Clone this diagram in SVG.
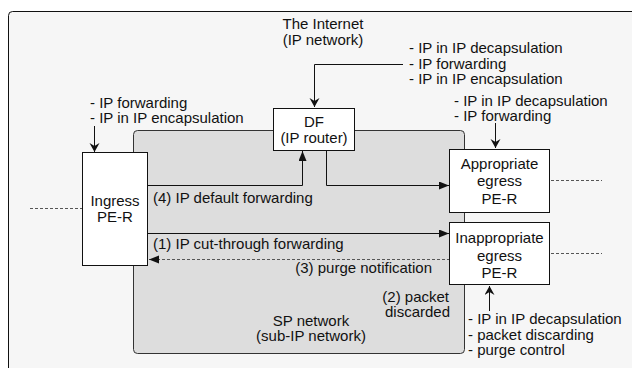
<svg xmlns="http://www.w3.org/2000/svg" width="632" height="368" viewBox="0 0 632 368">
<style>
  text { font-family: "Liberation Sans", Arial, sans-serif; font-size: 15px; fill: #111; }
  .c { text-anchor: middle; }
  .e { text-anchor: end; }
  .box { fill: #ffffff; stroke: #111; stroke-width: 1; }
  .ln { fill: none; stroke: #111; stroke-width: 1; }
  .dash { fill: none; stroke: #555; stroke-width: 1; stroke-dasharray: 3 2; }
</style>
<defs>
  <marker id="arr" markerUnits="userSpaceOnUse" markerWidth="12" markerHeight="10" refX="10" refY="4" orient="auto">
    <path d="M0,0 L10,4 L0,8 Z" fill="#111"/>
  </marker>
  <marker id="chev" markerUnits="userSpaceOnUse" markerWidth="12" markerHeight="12" refX="9" refY="5" orient="auto">
    <path d="M0,0 L9,5 L0,10 L3,5 Z" fill="#111"/>
  </marker>
</defs>

<rect id="frame" x="8.5" y="11.5" width="700" height="420" rx="4" fill="#f6f6f6" stroke="#111"/>

<g id="sp-network">
  <rect x="133.5" y="130.5" width="331" height="223" rx="4" fill="#dddddd" stroke="#333"/>
  <text class="c" x="311" y="325.5">SP network</text>
  <text class="c" x="311" y="341">(sub-IP network)</text>
</g>

<g id="internet">
  <text class="c" x="323" y="28.5">The Internet</text>
  <text class="c" x="323" y="45">(IP network)</text>
</g>

<g id="connectors">
  <path class="ln" d="M403,64.5 H314.5 V107" marker-end="url(#chev)"/>
  <path class="ln" d="M94.5,126 V152" marker-end="url(#chev)"/>
  <path class="ln" d="M495.5,123 V148" marker-end="url(#chev)"/>
  <path class="ln" d="M489.5,311 V286" marker-end="url(#chev)"/>
  <path class="ln" d="M148,185.5 H302.5 V151" marker-end="url(#arr)"/>
  <path class="ln" d="M326.5,150 V185.5 H449" marker-end="url(#arr)"/>
  <path class="ln" d="M148,233.5 H449" marker-end="url(#arr)"/>
  <path class="dash" d="M450,259.5 H149" marker-end="url(#arr)"/>
  <path class="dash" d="M30,208.5 H82"/>
  <path class="dash" d="M551,180.5 H602"/>
  <path class="dash" d="M551,253.5 H602"/>
</g>

<g id="ingress">
  <rect class="box" x="82.5" y="152.5" width="65" height="113"/>
  <text class="c" x="115" y="205.5">Ingress</text>
  <text class="c" x="115" y="221.5">PE-R</text>
</g>

<g id="df">
  <rect class="box" x="273.5" y="108.5" width="81" height="42"/>
  <text class="c" x="314" y="127">DF</text>
  <text class="c" x="314" y="142.5">(IP router)</text>
</g>

<g id="appropriate-egress">
  <rect class="box" x="449.5" y="149.5" width="100" height="63"/>
  <text class="c" x="499.5" y="168.5">Appropriate</text>
  <text class="c" x="499.5" y="186">egress</text>
  <text class="c" x="499.5" y="203.5">PE-R</text>
</g>

<g id="inappropriate-egress">
  <rect class="box" x="449.5" y="222.5" width="100" height="62"/>
  <text class="c" x="499.5" y="243">Inappropriate</text>
  <text class="c" x="499.5" y="260.5">egress</text>
  <text class="c" x="499.5" y="278">PE-R</text>
</g>

<g id="labels">
  <text x="409" y="53">- IP in IP decapsulation</text>
  <text x="409" y="68.5">- IP forwarding</text>
  <text x="409" y="84">- IP in IP encapsulation</text>
  <text x="90" y="107.5">- IP forwarding</text>
  <text x="90" y="123">- IP in IP encapsulation</text>
  <text x="454" y="105.5">- IP in IP decapsulation</text>
  <text x="454" y="121">- IP forwarding</text>
  <text x="468" y="324">- IP in IP decapsulation</text>
  <text x="468" y="339.5">- packet discarding</text>
  <text x="468" y="355">- purge control</text>
  <text x="153" y="203">(4) IP default forwarding</text>
  <text x="153" y="249">(1) IP cut-through forwarding</text>
  <text class="e" x="432" y="273">(3) purge notification</text>
  <text class="e" x="449" y="301.5">(2) packet</text>
  <text class="e" x="450" y="317">discarded</text>
</g>
</svg>
